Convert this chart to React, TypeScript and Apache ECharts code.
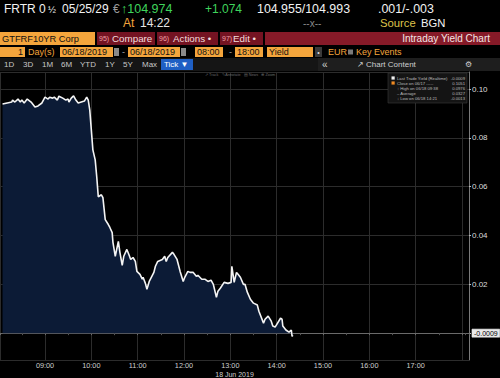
import React, { useEffect, useRef } from "react";
import * as echarts from "echarts";

// ---- data ----
const times: string[] = [
  "08:05","08:17","08:18","08:21","08:25","08:28","08:30","08:33","08:37","08:42",
  "08:47","08:51","08:56","09:00","09:04","09:06","09:10","09:12","09:16","09:18",
  "09:23","09:27","09:30","09:31","09:34","09:37","09:40","09:43","09:47","09:51",
  "09:54","09:56","09:58","10:02","10:05","10:07","10:09","10:13","10:15","10:18",
  "10:22","10:24","10:27","10:28","10:31","10:35","10:37","10:40","10:42","10:46",
  "10:49","10:51","10:54","10:57","10:59","11:03","11:06","11:07","11:10","11:12",
  "11:15","11:19","11:21","11:23","11:26","11:32","11:35","11:37","11:39","11:45",
  "11:47","11:51","11:55","11:59","12:01","12:05","12:08","12:12","12:16","12:18",
  "12:23","12:27","12:31","12:35","12:38","12:42","12:44","12:47","12:52","12:57",
  "13:01","13:02","13:05","13:08","13:10","13:13","13:17","13:19","13:22","13:26",
  "13:30","13:35","13:37","13:43","13:45","13:49","13:53","13:55","13:58","14:05",
  "14:07","14:08","14:12","14:16","14:19","14:20","14:21"
];
const yields: number[] = [
  0.0939,0.0947,0.0955,0.0947,0.0959,0.0947,0.0955,0.0943,0.0959,0.0947,
  0.0927,0.0931,0.0943,0.0967,0.0959,0.0967,0.0963,0.0967,0.0955,0.0971,
  0.0963,0.0955,0.0959,0.0947,0.0963,0.0972,0.0955,0.0943,0.0947,0.0951,
  0.0967,0.0955,0.0914,0.0751,0.0710,0.0641,0.0559,0.0567,0.0555,0.0465,
  0.0445,0.0433,0.0412,0.0372,0.0315,0.0376,0.0331,0.0278,0.0315,0.0343,
  0.0319,0.0302,0.0310,0.0294,0.0253,0.0241,0.0221,0.0229,0.0204,0.0180,
  0.0212,0.0237,0.0249,0.0274,0.0294,0.0302,0.0315,0.0294,0.0310,0.0331,
  0.0323,0.0302,0.0253,0.0212,0.0229,0.0253,0.0249,0.0249,0.0233,0.0237,
  0.0221,0.0221,0.0212,0.0217,0.0200,0.0147,0.0172,0.0184,0.0208,0.0204,
  0.0208,0.0274,0.0208,0.0249,0.0241,0.0229,0.0200,0.0200,0.0168,0.0139,
  0.0123,0.0115,0.0090,0.0041,0.0057,0.0070,0.0049,0.0029,0.0025,0.0061,
  0.0057,0.0029,0.0013,0.0004,0.0013,-0.0013,-0.0009
];
const lastValue = -0.0009;
const legendRows: [string, string][] = [
  ["Last Trade Yield (Realtime)", "-0.0009"],
  ["Close on 06/17 -----", "0.1051"],
  ["\u2191 High on 06/18 09:38", "0.0976"],
  ["\u2013 Average", "0.0327"],
  ["\u2193 Low on 06/18 14:21", "-0.0013"],
];
const periodButtons: string[] = ["1D", "3D", "1M", "6M", "YTD", "1Y", "5Y", "Max"];

const FONT = "Liberation Sans";
const ORANGE = "#f4a53c";
const RED = "#741322";

function at(hm: string, sec = 0): number {
  const [h, m] = hm.split(":").map(Number);
  return new Date(2019, 5, 18, h, m, sec).getTime();
}

function txt(x: number, y: number, text: string, fill: string, fontSize: number, align = "left", extra: any = {}) {
  return {
    type: "text",
    x,
    y,
    z: 10,
    style: { text, fill, fontSize, fontFamily: FONT, align, verticalAlign: "middle", ...extra },
  };
}
function box(x: number, y: number, w: number, h: number, fill: string, extra: any = {}) {
  return { type: "rect", z: 9, shape: { x, y, width: w, height: h }, style: { fill, ...extra } };
}

function buildGraphics() {
  const g: any[] = [];
  // Row 1
  g.push(txt(4, 9, "FRTR 0", "#f2f2f2", 12));
  g.push(txt(48, 9, "\u00bd", "#f2f2f2", 9.5));
  g.push(txt(62, 9, "05/25/29", "#f2f2f2", 12));
  g.push(txt(113, 9, "\u20ac", "#9a9a9a", 12));
  g.push(txt(121, 9, "\u2191104.974", "#3fd45c", 12.5));
  g.push(txt(205, 9, "+1.074", "#3fd45c", 12));
  g.push(txt(257, 9, "104.955/104.993", "#f2f2f2", 12.4));
  g.push(txt(378, 9, ".001/-.003", "#f2f2f2", 12.4));
  // Row 2
  g.push(txt(123, 23, "At", ORANGE, 12));
  g.push(txt(140, 23, "14:22", "#e6e6e6", 12));
  g.push(txt(303, 23, "--x--", "#8a8a8a", 10));
  g.push(txt(380, 23, "Source", "#dcc24a", 11.3));
  g.push(txt(421, 23, "BGN", "#f2f2f2", 11.3));
  // Row 3
  g.push(box(0, 32, 95, 13, ORANGE));
  g.push(txt(2, 38.5, "GTFRF10YR Corp", "#111", 9.3));
  g.push(box(97, 32, 58, 13, RED));
  g.push(txt(99, 38.5, "95)", "#f0a0a8", 7));
  g.push(txt(112, 38.5, "Compare", "#f3dede", 9.8));
  g.push(box(157, 32, 61, 13, RED));
  g.push(txt(159, 38.5, "96)", "#f0a0a8", 7));
  g.push(txt(173, 38.5, "Actions \u2022", "#f3dede", 9.8));
  g.push(box(220, 32, 43, 13, RED));
  g.push(txt(222, 38.5, "97)", "#f0a0a8", 7));
  g.push(txt(233, 38.5, "Edit \u2022", "#f3dede", 9.8));
  g.push(box(265, 32, 235, 13, "#861a28"));
  g.push(txt(490, 38.5, "Intraday Yield Chart", "#f3e6e6", 10, "right"));
  // Row 4
  g.push(box(0, 47, 25, 10, ORANGE));
  g.push(txt(23, 52, "1", "#111", 9, "right"));
  g.push(txt(28, 52, "Day(s)", ORANGE, 9));
  g.push(box(60, 47, 53, 10, ORANGE));
  g.push(txt(62, 52, "06/18/2019", "#111", 9));
  g.push(box(114, 48, 5, 8, "#8a8a8a"));
  g.push(txt(122, 52, "-", "#aaa", 9));
  g.push(box(128, 47, 52, 10, ORANGE));
  g.push(txt(130, 52, "06/18/2019", "#111", 9));
  g.push(box(181, 48, 5, 8, "#8a8a8a"));
  g.push(box(195, 47, 28, 10, ORANGE));
  g.push(txt(197, 52, "08:00", "#111", 9));
  g.push(txt(229, 52, "-", "#aaa", 9));
  g.push(box(235, 47, 28, 10, ORANGE));
  g.push(txt(237, 52, "18:00", "#111", 9));
  g.push(box(267, 47, 46, 10, ORANGE));
  g.push(txt(269, 52, "Yield", "#111", 9));
  g.push(box(315, 47, 7, 10, "#3a3a3a"));
  g.push(txt(318.5, 52, "\u2022", "#ddd", 7, "center"));
  g.push(txt(328, 52, "EUR", ORANGE, 9));
  g.push(box(348, 49.5, 5, 5, "#7a7a7a"));
  g.push(txt(356, 52, "Key Events", ORANGE, 9));
  // Row 5
  g.push(box(0, 58, 500, 13, "#151515"));
  const px = [4, 23, 42, 61, 80, 105, 123, 142];
  periodButtons.forEach((b, i) => g.push(txt(px[i], 64.5, b, "#c8c8c8", 8)));
  g.push(box(161, 59, 32, 11, "#1f5fc4"));
  g.push(txt(164, 64.5, "Tick \u25bc", "#ffffff", 8));
  g.push(box(318, 58, 182, 13, "#1e1e1e"));
  g.push(txt(322, 64.5, "\u00ab", "#cfcfcf", 10));
  g.push(txt(357, 64.5, "\u2197", "#cfcfcf", 8));
  g.push(txt(366, 64.5, "Chart Content", "#cfcfcf", 8));
  g.push(txt(468, 64.5, "\u2699", "#cfcfcf", 8, "center"));
  // chart toolbar (tiny)
  g.push(txt(205, 74.5, "\u2197 Track   \u270e Annotate   \u25a4 News   \u2295 Zoom", "#6a6a6a", 3.8));
  // legend box
  g.push(box(388, 73, 79, 30, "#141414", { stroke: "#3a3a3a", lineWidth: 0.6 }));
  legendRows.forEach(([label, val], i) => {
    const y = 78 + i * 5;
    if (i === 0) g.push(box(391.5, y - 1.6, 3.2, 3.2, "#f2f2f2"));
    if (i === 1) g.push(box(391.5, y - 1.6, 3.2, 3.2, "#f08a22"));
    g.push(txt(397, y, label, "#bdbdbd", 4.2));
    g.push(txt(465, y, val, "#bdbdbd", 4.2, "right"));
  });
  return g;
}

function pad(n: number) {
  return n < 10 ? "0" + n : "" + n;
}

export default function App() {
  const ref = useRef<HTMLDivElement>(null);
  useEffect(() => {
    if (!ref.current) return;
    const chart = echarts.init(ref.current, undefined, { renderer: "svg" });
    const data = times.map((t, i) => [at(t), yields[i]]);
    chart.setOption({
      animation: false,
      backgroundColor: "#000000",
      textStyle: { fontFamily: FONT },
      grid: { left: 0, right: 31, top: 72, bottom: 18, containLabel: false, outerBoundsMode: "none" },
      xAxis: {
        type: "time",
        min: at("08:01", 43),
        max: at("18:09", 7),
        minInterval: 3600000,
        maxInterval: 3600000,
        axisLine: { show: true, lineStyle: { color: "#6a6a6a", width: 1 } },
        axisTick: { show: true, length: 2, lineStyle: { color: "#6a6a6a" } },
        minorTick: { show: true, splitNumber: 2, length: 2, lineStyle: { color: "#555" } },
        axisLabel: {
          color: "#cfcfcf",
          fontSize: 7.3,
          margin: 1.5,
          showMinLabel: false,
          showMaxLabel: false,
          formatter: (v: number) => {
            const d = new Date(v);
            if (d.getHours() >= 18 || d.getHours() < 9) return "";
            return pad(d.getHours()) + ":" + pad(d.getMinutes());
          },
        },
        splitLine: { show: true, lineStyle: { color: "#2c2c2c", width: 1 } },
        name: "18 Jun 2019",
        nameLocation: "middle",
        nameGap: 10.5,
        nameMoveOverlap: false,
        nameTextStyle: { color: "#cfcfcf", fontSize: 7, verticalAlign: "top", lineHeight: 7 },
      },
      yAxis: {
        type: "value",
        position: "right",
        min: -0.011,
        max: 0.107,
        splitNumber: 6,
        axisLine: { show: true, lineStyle: { color: "#7a7a7a", width: 1 } },
        axisTick: { show: true, length: 2, lineStyle: { color: "#bbb" } },
        axisLabel: {
          color: "#dcdcdc",
          fontSize: 8,
          margin: 3,
          showMinLabel: false,
          showMaxLabel: false,
          formatter: (v: number) => (Math.abs(v) < 1e-9 ? "" : v.toFixed(2)),
        },
        splitLine: { show: true, lineStyle: { color: "#2c2c2c", width: 1 } },
      },
      series: [
        {
          type: "line",
          data,
          showSymbol: false,
          symbol: "none",
          clip: false,
          lineStyle: { color: "#f4f4f4", width: 1.6 },
          areaStyle: { color: "#0c1b36", opacity: 1 },
          z: 3,
          markLine: {
            silent: true,
            symbol: ["none", "none"],
            lineStyle: { color: "rgba(0,0,0,0)", width: 1, type: "solid" },
            data: [{ yAxis: lastValue }],
            label: {
              show: true,
              position: "end",
              distance: 3,
              formatter: lastValue.toFixed(4),
              color: "#000",
              backgroundColor: "#e9e9e9",
              borderColor: "#9a9a9a",
              borderWidth: 0.5,
              padding: [1, 2, 0, 2],
              fontSize: 7,
            },
          },
        },
      ],
      graphic: buildGraphics(),
    });
    return () => chart.dispose();
  }, []);
  return (
    <div
      ref={ref}
      style={{ position: "fixed", left: 0, top: 0, width: 500, height: 378, background: "#000" }}
    />
  );
}
